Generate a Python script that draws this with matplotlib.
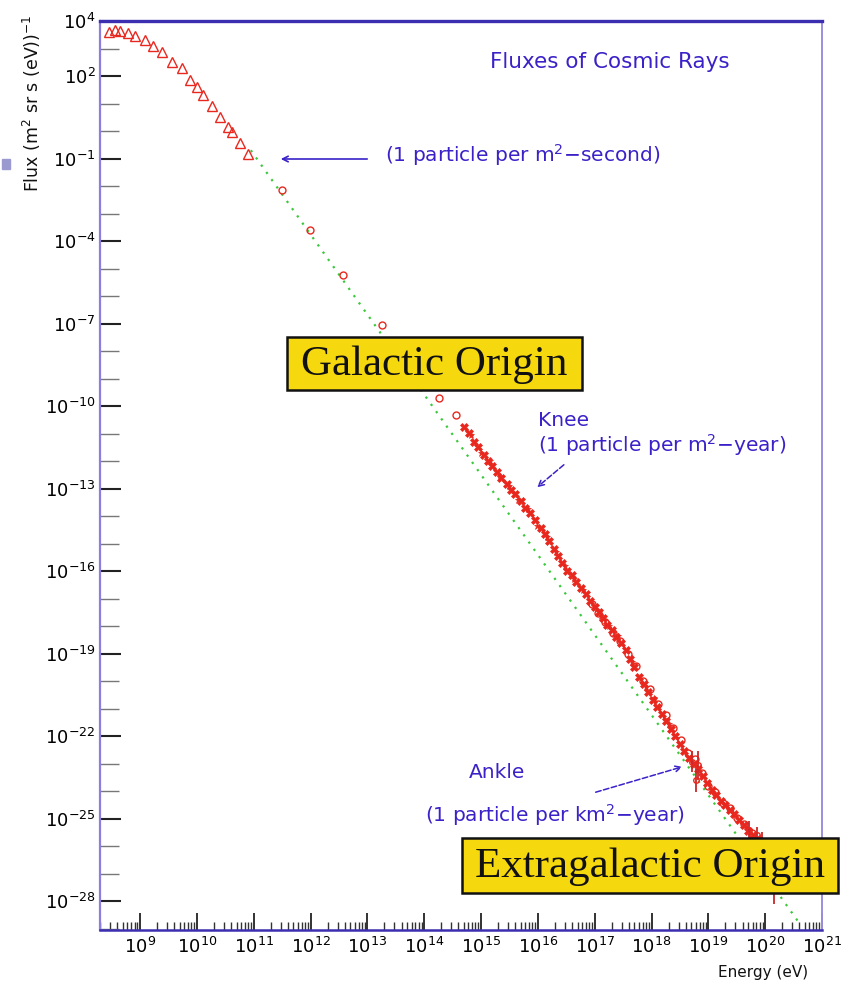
import numpy as np
import matplotlib
matplotlib.use("Agg")
import matplotlib.pyplot as plt
from matplotlib.ticker import FixedLocator, NullFormatter, FixedFormatter, LogLocator

plt.rcParams['font.family'] = ['DejaVu Sans']
plt.rcParams['mathtext.default'] = 'regular'

# ---------------- data (log10 values) ----------------
# low-energy triangles
tri_logE = [8.45, 8.56, 8.65, 8.79, 8.91, 9.09, 9.23, 9.39, 9.56, 9.74, 9.88,
            10.01, 10.11, 10.27, 10.41, 10.55, 10.62, 10.76, 10.90]
tri_logF = [3.60, 3.67, 3.64, 3.56, 3.45, 3.31, 3.09, 2.87, 2.51, 2.29, 1.85,
            1.60, 1.31, 0.91, 0.51, 0.15, -0.04, -0.44, -0.84]

# sparse open circles
circ_logE = [11.50, 11.99, 12.58, 13.25, 14.26, 14.56]
circ_logF = [-2.15, -3.60, -5.24, -7.05, -9.70, -10.33]

# dense air-shower data
dense_logE = [14.70, 14.78, 14.88, 14.95, 15.05, 15.12, 15.20, 15.29, 15.36, 15.45,
              15.52, 15.60, 15.70, 15.78, 15.86, 15.95, 16.05, 16.12, 16.20, 16.28,
              16.35, 16.43, 16.52, 16.60, 16.68, 16.76, 16.84, 16.92, 17.00, 17.08,
              17.15, 17.22, 17.30, 17.38, 17.47, 17.55, 17.62, 17.70, 17.78, 17.86,
              17.94, 18.02, 18.10, 18.18, 18.26, 18.34, 18.42, 18.50, 18.58, 18.66,
              18.74, 18.82, 18.90, 18.98, 19.06, 19.14, 19.22, 19.30, 19.38, 19.46,
              19.54, 19.62, 19.70, 19.78, 19.86, 19.94, 20.02, 20.10, 20.20]
dense_logF = [-10.76, -10.98, -11.30, -11.50, -11.78, -11.98, -12.18, -12.39, -12.60, -12.85,
              -13.05, -13.20, -13.45, -13.70, -13.90, -14.15, -14.42, -14.65, -14.90, -15.20,
              -15.45, -15.70, -15.98, -16.15, -16.38, -16.60, -16.85, -17.08, -17.30, -17.50,
              -17.70, -17.95, -18.15, -18.40, -18.62, -18.88, -19.20, -19.50, -19.85, -20.10,
              -20.40, -20.70, -20.95, -21.20, -21.45, -21.75, -22.00, -22.30, -22.55, -22.80,
              -23.00, -23.20, -23.45, -23.70, -23.95, -24.15, -24.35, -24.50, -24.70, -24.85,
              -25.05, -25.25, -25.45, -25.60, -25.75, -26.00, -26.30, -26.60, -27.00]

# second and third overlapping experiments (thicken the band)
band_logE = [16.95, 17.05, 17.18, 17.32, 17.45, 17.58, 17.72, 17.85, 17.98, 18.12,
             18.25, 18.38, 18.52, 18.64, 18.76, 18.88, 19.00, 19.12, 19.25, 19.38,
             19.50, 19.63, 19.76, 19.90]
band_logF = [-17.20, -17.52, -17.85, -18.25, -18.55, -19.00, -19.45, -19.98, -20.30, -20.85,
             -21.25, -21.70, -22.15, -22.60, -22.85, -23.35, -23.80, -24.05, -24.45, -24.62,
             -24.98, -25.20, -25.52, -25.80]
band2_logE = [14.83, 15.00, 15.16, 15.33, 15.49, 15.65, 15.82, 15.99, 16.16, 16.32,
              16.48, 16.64, 16.80, 17.12, 17.26, 17.41, 17.66, 17.90, 18.05, 18.30]
band2_logF = [-11.05, -11.70, -12.00, -12.55, -12.90, -13.40, -13.75, -14.35, -14.75, -15.30,
              -15.80, -16.30, -16.70, -17.65, -18.00, -18.35, -19.30, -20.20, -20.60, -21.55]

# points with large error bars around the ankle and beyond
bar_logE = [18.72, 18.79, 18.82, 19.72, 19.85, 19.95, 20.05, 20.15]
bar_logF = [-22.95, -23.60, -23.05, -25.40, -25.60, -25.90, -26.20, -27.20]
bar_logF_lo = [-23.30, -24.05, -23.60, -25.90, -26.10, -26.50, -27.00, -28.10]
bar_logF_hi = [-22.55, -23.20, -22.55, -25.10, -25.30, -25.50, -25.80, -26.80]

# E^-2.9 reference line (green dotted), endpoints
line_logE = [10.95, 20.60]
line_logF = [-0.70, -28.80]

x_tick_exp = list(range(9, 22))
y_label_exp = [4, 2, -1, -4, -7, -10, -13, -16, -19, -22, -25, -28]

# ---------------- figure ----------------
W, H = 845, 982
fig = plt.figure(figsize=(W / 100, H / 100), dpi=100)
ax = fig.add_axes([100 / W, 52 / H, 722 / W, 909 / H])
ax.set_xscale('log')
ax.set_yscale('log')
ax.set_xlim(10 ** 8.296, 1e21)
ax.set_ylim(10 ** -29.05, 1e4)

red = '#e8281e'
blue = '#3a22c8'

p = lambda v: 10 ** np.asarray(v, dtype=float)

ax.plot(p(line_logE), p(line_logF), ls=(0, (1, 3)), color='#3cc83c', lw=1.6, zorder=2)

ax.plot(p(tri_logE), p(tri_logF), ls='none', marker='^', ms=6.5, mfc='none',
        mec=red, mew=1.0, zorder=3)
ax.plot(p(circ_logE), p(circ_logF), ls='none', marker='o', ms=5, mfc='none',
        mec=red, mew=1.0, zorder=3)
ax.plot(p(band_logE), p(band_logF), ls='none', marker='o', ms=5, mfc='none',
        mec=red, mew=1.0, zorder=3)
ax.plot(p(band2_logE), p(band2_logF), ls='none', marker='*', ms=5, mfc=red,
        mec=red, mew=0.5, zorder=3)
ax.plot(p(dense_logE), p(dense_logF), ls='none', marker='X', ms=6, mfc=red,
        mec=red, mew=0.5, zorder=4)

bF = p(bar_logF)
ax.errorbar(p(bar_logE), bF, yerr=[bF - p(bar_logF_lo), p(bar_logF_hi) - bF],
            fmt='o', ms=4, mfc='none', mec=red, ecolor='#c8282a', elinewidth=1.3,
            capsize=0, zorder=4)

# ---------------- axes styling ----------------
for side, col, lw in [('left', '#8c7ee0', 1.6), ('right', '#9a90e0', 1.4),
                      ('top', '#3c2eb0', 2.4), ('bottom', '#3c2eb0', 1.8)]:
    ax.spines[side].set_color(col)
    ax.spines[side].set_linewidth(lw)

ax.xaxis.set_major_locator(FixedLocator([10.0 ** e for e in x_tick_exp]))
ax.xaxis.set_major_formatter(FixedFormatter(['$10^{%d}$' % e for e in x_tick_exp]))
ax.xaxis.set_minor_locator(LogLocator(base=10, subs=np.arange(2, 10), numticks=100))
ax.xaxis.set_minor_formatter(NullFormatter())

ax.yaxis.set_major_locator(FixedLocator([10.0 ** e for e in y_label_exp]))
ax.yaxis.set_major_formatter(FixedFormatter(['$10^{%d}$' % e for e in y_label_exp]))
ax.yaxis.set_minor_locator(FixedLocator([10.0 ** e for e in range(-29, 5)]))
ax.yaxis.set_minor_formatter(NullFormatter())

ax.tick_params(axis='x', which='major', direction='in', length=12, width=1.3,
               color='#222222', labelsize=13, pad=5, top=False)
ax.tick_params(axis='x', which='minor', direction='in', length=6, width=1.0,
               color='#333333', top=False)
ax.tick_params(axis='y', which='major', direction='in', length=15, width=1.5,
               color='#222222', labelsize=13, pad=3, right=False)
ax.tick_params(axis='y', which='minor', direction='in', length=14, width=1.0,
               color='#777777', right=False)

# ---------------- texts ----------------
def fx(x):
    return x / W

def fy(y):
    return 1 - y / H

fig.text(fx(32), fy(103), 'Flux (m$^2$ sr s (eV))$^{-1}$', rotation=90,
         ha='center', va='center', fontsize=12.5, color='#111111')
fig.text(fx(808), fy(972), 'Energy (eV)', ha='right', va='center', fontsize=11,
         color='#111111')
fig.patches.append(plt.Rectangle((fx(2), fy(169)), 8 / W, 10 / H,
                                 transform=fig.transFigure, color='#9a9ad0'))

fig.text(fx(610), fy(62), 'Fluxes of Cosmic Rays', ha='center', va='center',
         fontsize=15.5, color=blue)

fig.text(fx(385), fy(155), '(1 particle per m$^2$\u2212second)', ha='left',
         va='center', fontsize=14.5, color=blue)
ax.annotate('', xy=(fx(278), fy(159)), xycoords='figure fraction',
            xytext=(fx(370), fy(159)), textcoords='figure fraction',
            arrowprops=dict(arrowstyle='->', color=blue, lw=1.2))

fig.text(fx(538), fy(421), 'Knee', ha='left', va='center', fontsize=14.5, color=blue)
fig.text(fx(538), fy(445), '(1 particle per m$^2$\u2212year)', ha='left',
         va='center', fontsize=14.5, color=blue)
ax.annotate('', xy=(fx(535), fy(489)), xycoords='figure fraction',
            xytext=(fx(566), fy(463)), textcoords='figure fraction',
            arrowprops=dict(arrowstyle='->', color=blue, lw=1.1, ls='--'))

fig.text(fx(497), fy(773), 'Ankle', ha='center', va='center', fontsize=14.5, color=blue)
fig.text(fx(425), fy(815), '(1 particle per km$^2$\u2212year)', ha='left',
         va='center', fontsize=14.5, color=blue)
ax.annotate('', xy=(fx(685), fy(766)), xycoords='figure fraction',
            xytext=(fx(593), fy(793)), textcoords='figure fraction',
            arrowprops=dict(arrowstyle='->', color=blue, lw=1.1, ls='--'))

# yellow label boxes
for (x0, y0, x1, y1), label in [((287, 337, 582, 390), 'Galactic Origin'),
                                ((462, 838, 838, 893), 'Extragalactic Origin')]:
    fig.patches.append(plt.Rectangle((fx(x0), fy(y1)), (x1 - x0) / W, (y1 - y0) / H,
                                     transform=fig.transFigure, fc='#f5d80e',
                                     ec='#111111', lw=1.8, zorder=10))
    fig.text(fx((x0 + x1) / 2), fy((y0 + y1) / 2 + 1), label, ha='center',
             va='center', fontsize=31, family='Liberation Serif', color='#111111',
             zorder=11)

fig.savefig('out.png', dpi=100)
